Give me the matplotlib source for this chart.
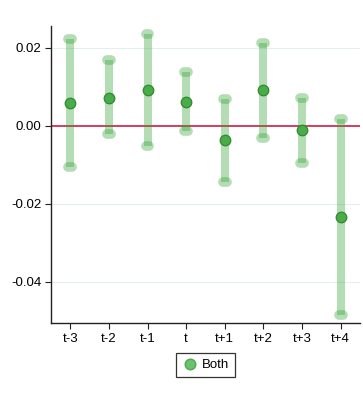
import matplotlib
matplotlib.use("Agg")
from matplotlib import pyplot as plt
from matplotlib.lines import Line2D
import numpy as np

plt.rcParams['font.family'] = ['Liberation Sans', 'DejaVu Sans']

# event-time labels and estimates
periods = ['t-3', 't-2', 't-1', 't', 't+1', 't+2', 't+3', 't+4']
estimate = [0.0058, 0.0072, 0.0092, 0.0062, -0.0037, 0.0091, -0.0011, -0.0233]
ci_low = [-0.0106, -0.0022, -0.0051, -0.0013, -0.0143, -0.0031, -0.0095, -0.0485]
ci_high = [0.0224, 0.0168, 0.0236, 0.0138, 0.0069, 0.0212, 0.0072, 0.0017]

ytick_vals = [0.02, 0.0, -0.02, -0.04]
ytick_labels = ['0.02', '0.00', '-0.02', '-0.04']

bar_col = '#2ca02c'
pt_face = '#4aab4a'
pt_edge = '#2e8b2e'

fig = plt.figure(figsize=(3.63, 3.93), dpi=100)
ax = fig.add_axes([0.1405, 0.1773, 0.851, 0.7565])

x = np.arange(len(periods))

for yv in [0.02, -0.02, -0.04]:
    ax.axhline(yv, color='#e4eef2', lw=0.8, zorder=0)
ax.axhline(0, color='#cc0836', lw=1.1, zorder=1)

# confidence bars with rounded caps
ax.vlines(x, ci_low, ci_high, color=bar_col, alpha=0.35, lw=5.8, zorder=2)
for xi, lo, hi in zip(x, ci_low, ci_high):
    for yv in (lo, hi):
        ax.plot([xi - 0.05, xi + 0.05], [yv, yv], color=bar_col, alpha=0.35,
                lw=7.0, solid_capstyle='round', zorder=2)

ax.plot(x, estimate, 'o', ms=7.6, mfc=pt_face, mec=pt_edge, mew=0.9, zorder=3)

ax.set_xlim(-0.5, 7.5)
ax.set_ylim(-0.0506, 0.0256)
ax.set_xticks(x)
ax.set_xticklabels(periods)
ax.set_yticks(ytick_vals)
ax.set_yticklabels(ytick_labels)
ax.tick_params(labelsize=9.5, length=4, width=0.8, color='#222222', pad=3)

for s in ['top', 'right']:
    ax.spines[s].set_visible(False)
for s in ['left', 'bottom']:
    ax.spines[s].set_color('#222222')
    ax.spines[s].set_linewidth(1.0)

handle = Line2D([], [], ls='none', marker='o', ms=7.6, mfc='#6cc26c', mec='#4fa84f')
leg = ax.legend([handle], ['Both'], loc='upper center', bbox_to_anchor=(0.5, -0.1),
                borderaxespad=0, fancybox=False, framealpha=1, fontsize=9.5,
                handletextpad=0.3, handlelength=1.2, borderpad=0.45)
leg.get_frame().set_edgecolor('#333333')
leg.get_frame().set_linewidth(0.9)

fig.savefig('out.png', dpi=100)
